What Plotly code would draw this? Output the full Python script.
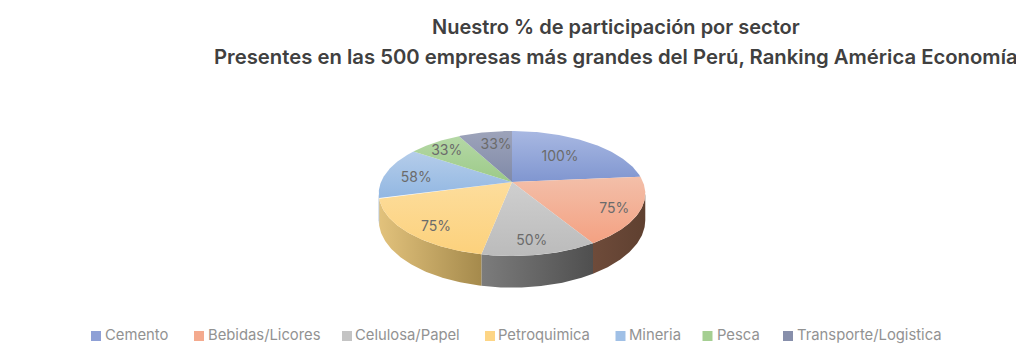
import numpy as np
import plotly.graph_objects as go

categories = ["Cemento", "Bebidas/Licores", "Celulosa/Papel", "Petroquimica", "Mineria", "Pesca", "Transporte/Logistica"]
values = [100, 75, 50, 75, 58, 33, 33]
top_light = ["#a8b8e2", "#f3bfa9", "#cfcfcf", "#fddd9c", "#b5cdea", "#b5d8a6", "#9da3ba"]
top_dark = ["#8096d0", "#f4a182", "#bbbbbb", "#fcd17c", "#92b7e2", "#9cca88", "#808aa8"]
wall_left = ["#55628a", "#6e4b3a", "#7c7c7c", "#e2c27c", "#7f9cc0", "#7fa56c", "#5d6580"]
wall_right = ["#55628a", "#5f4030", "#4f4f4f", "#a58a4c", "#7f9cc0", "#7fa56c", "#5d6580"]
legend_marker = ["#8ea0d6", "#f4aa8e", "#c4c4c4", "#fdd585", "#a0c0e6", "#a5cf92", "#878fab"]
label_radius = [0.6, 0.8, 0.8, 0.8, 0.75, 0.8, 0.75]
label_dx = [-1, 2, -2, 4, -1, -2, 5]
label_dy = [0, 4, 4, 6, 4, 2, 2]
legend_sq_x = [96, 199, 347, 490, 620.5, 707.5, 788]
legend_text_x = [105, 208, 355, 498, 629, 717, 797]

CX, CY, A, B, K, H = 512, 182, 131, 60.4, 0.184, 25.8
TEXT = "Inter"


def project(theta, r=1.0):
    u, v = r * np.sin(theta), r * np.cos(theta)
    d = 1 + K * v
    return CX + A * u / d, CY - B * v / d, H / d


total = sum(values)
edges = np.radians(np.concatenate([[0], np.cumsum(values)]) / total * 360)
t_min, t_max = np.arccos(-K), 2 * np.pi - np.arccos(-K)

fig = go.Figure()

# side walls
for i in range(len(values)):
    a, b = max(edges[i], t_min), min(edges[i + 1], t_max)
    if a >= b:
        continue
    t = np.linspace(a, b, 80)
    x, y, h = project(t)
    px = np.concatenate([x, x[::-1]])
    py = np.concatenate([y, (y + h)[::-1]])
    fig.add_trace(go.Scatter(
        x=px, y=py, mode="lines", line=dict(width=0), fill="toself", showlegend=False, hoverinfo="skip",
        fillgradient=dict(type="horizontal", colorscale=[[0, wall_left[i]], [1, wall_right[i]]]),
    ))

# top face
for i in range(len(values)):
    t = np.linspace(edges[i], edges[i + 1], 80)
    x, y, _ = project(t)
    fig.add_trace(go.Scatter(
        x=np.concatenate([[CX], x, [CX]]), y=np.concatenate([[CY], y, [CY]]),
        mode="lines", line=dict(width=0), fill="toself", name=categories[i], showlegend=False,
        fillgradient=dict(type="vertical", colorscale=[[0, top_dark[i]], [1, top_light[i]]]),
    ))

# slice labels
for i, v in enumerate(values):
    mid = (edges[i] + edges[i + 1]) / 2
    lx, ly, _ = project(np.array([mid]), label_radius[i])
    fig.add_trace(go.Scatter(
        x=lx + label_dx[i], y=ly + label_dy[i], mode="text", text=[f"{v}%"], showlegend=False, hoverinfo="skip",
        textfont=dict(family=TEXT, size=14, color="#6b6b6b"),
    ))

# legend
for i, c in enumerate(categories):
    fig.add_trace(go.Scatter(
        x=[legend_sq_x[i]], y=[336], mode="markers",
        marker=dict(symbol="square", size=10, color=legend_marker[i]), showlegend=False, hoverinfo="skip",
    ))
    fig.add_trace(go.Scatter(
        x=[legend_text_x[i]], y=[336], mode="text", text=[c], textposition="middle right",
        showlegend=False, hoverinfo="skip",
        textfont=dict(family=TEXT, size=14.8, color="#929292"),
    ))

# the page puts an 8 px margin round the figure; the ranges below keep data units equal to window pixels
fig.update_layout(
    width=1016, height=353, margin=dict(l=0, r=0, t=0, b=0),
    paper_bgcolor="white", plot_bgcolor="white", showlegend=False,
    xaxis=dict(range=[8, 1024], visible=False, fixedrange=True),
    yaxis=dict(range=[361, 8], visible=False, fixedrange=True),
    annotations=[
        dict(x=616, y=27, xref="x", yref="y", showarrow=False, text="Nuestro % de participación por sector",
             font=dict(family=TEXT, size=20, color="#404040", weight=600)),
        dict(x=616, y=56, xref="x", yref="y", showarrow=False, text="Presentes en las 500 empresas más grandes del Perú, Ranking América Economía",
             font=dict(family=TEXT, size=20.3, color="#404040", weight=600)),
    ],
)
fig.write_html("out.html")
